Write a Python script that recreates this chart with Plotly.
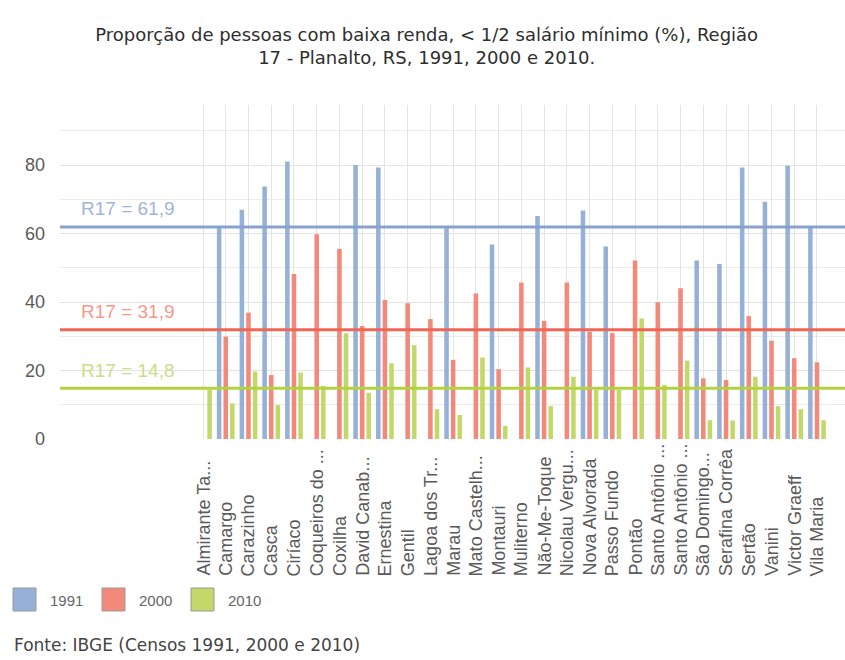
import plotly.graph_objects as go

# Municípios da Região 17 - Planalto (rótulos abreviados como no painel)
categorias = [
    "Almirante Ta...", "Camargo", "Carazinho", "Casca", "Ciríaco",
    "Coqueiros do ...", "Coxilha", "David Canab...", "Ernestina", "Gentil",
    "Lagoa dos Tr...", "Marau", "Mato Castelh...", "Montauri", "Muliterno",
    "Não-Me-Toque", "Nicolau Vergu...", "Nova Alvorada", "Passo Fundo", "Pontão",
    "Santo Antônio ...", "Santo Antônio ...", "São Domingo...", "Serafina Corrêa",
    "Sertão", "Vanini", "Victor Graeff", "Vila Maria",
]

# Proporção (%) de pessoas com renda < 1/2 salário mínimo
v1991 = [None, 61.8, 66.9, 73.7, 81.0, None, None, 80.0, 79.3, None,
         None, 61.8, None, 56.8, None, 65.1, None, 66.7, 56.2, None,
         None, None, 52.1, 51.1, 79.3, 69.3, 79.8, 61.8]
v2000 = [None, 29.9, 36.9, 18.7, 48.2, 59.8, 55.5, 33.0, 40.6, 39.6,
         35.0, 23.1, 42.5, 20.4, 45.7, 34.5, 45.7, 31.3, 30.9, 52.1,
         39.9, 44.0, 17.7, 17.2, 35.9, 28.7, 23.6, 22.4]
v2010 = [14.4, 10.4, 19.7, 9.9, 19.4, 15.5, 30.9, 13.5, 22.1, 27.4,
         8.7, 7.0, 23.8, 3.8, 20.9, 9.6, 18.2, 14.3, 14.3, 35.2,
         15.8, 22.9, 5.5, 5.4, 18.2, 9.6, 8.7, 5.5]

# Média da região em cada censo
anos = ["1991", "2000", "2010"]
media_r17 = [61.9, 31.9, 14.8]

cores_barra = ["#96b1d8", "#f3897a", "#c2d96a"]
cores_linha = ["#87a2cb", "#f06553", "#b3d240"]
cores_rotulo = ["#9fb5d7", "#f39a8d", "#cadd88"]

W, H = 845, 660
ML, MR, MT, MB = 60, 0, 105, 221
PW, PH = W - ML - MR, H - MT - MB

x = list(range(len(categorias)))

fig = go.Figure()
for ano, serie, cor in zip(anos, [v1991, v2000, v2010], cores_barra):
    fig.add_trace(go.Bar(x=x, y=serie, name=ano, marker=dict(color=cor, line=dict(width=0)),
                         showlegend=False))

# Linhas de referência com a média regional
for ano, v, cl, ct in zip(anos, media_r17, cores_linha, cores_rotulo):
    fig.add_shape(type="line", xref="paper", x0=0, x1=1, yref="y", y0=v, y1=v,
                  line=dict(color=cl, width=3), layer="above")
    fig.add_annotation(text=f"R17 = {v:.1f}".replace(".", ","), xref="paper", x=19 / PW,
                       xanchor="left", yref="y", y=v, yshift=18, yanchor="middle",
                       showarrow=False, font=dict(family="Liberation Sans", size=19, color=ct))


def px_x(p):
    return (p - ML) / PW


def px_y(p):
    return (H - MB - p) / PH


# Rótulos das categorias, alinhados pela base
for i, nome in enumerate(categorias):
    fig.add_annotation(text=nome, x=i, xref="x", y=px_y(578), yref="paper",
                       textangle=-90, xanchor="center", yanchor="bottom", showarrow=False,
                       font=dict(family="Liberation Sans", size=18, color="#5a5a5a"))

# Legenda
leg_x = [13, 102, 191]
for ano, cor, lx in zip(anos, cores_barra, leg_x):
    fig.add_shape(type="rect", xref="paper", yref="paper",
                  x0=px_x(lx), x1=px_x(lx + 23), y0=px_y(611), y1=px_y(588),
                  fillcolor=cor, line=dict(color="#9a9a9a", width=1))
    fig.add_annotation(text=ano, xref="paper", yref="paper", x=px_x(lx + 35), y=px_y(600),
                       xanchor="left", yanchor="middle", showarrow=False,
                       font=dict(family="Liberation Sans", size=15, color="#666666"))

fig.add_annotation(text="Fonte: IBGE (Censos 1991, 2000 e 2010)", xref="paper", yref="paper",
                   x=px_x(12), y=px_y(645), xanchor="left", yanchor="middle", showarrow=False,
                   font=dict(family="DejaVu Sans", size=17, color="#444444"))

xl = -(203 - ML) / 22.74
fig.update_layout(
    width=W, height=H,
    margin=dict(l=ML, r=MR, t=MT, b=MB, pad=0),
    paper_bgcolor="white", plot_bgcolor="white",
    barmode="group", bargap=0.13, bargroupgap=0.31,
    title=dict(
        text="Proporção de pessoas com baixa renda, < 1/2 salário mínimo (%), Região<br>"
             "17 - Planalto, RS, 1991, 2000 e 2010.",
        x=0.505, xanchor="center", xref="container", y=1 - 41 / H, yref="container",
        yanchor="middle",
        font=dict(family="DejaVu Sans", size=18, color="#2e2e2e"),
    ),
    xaxis=dict(range=[xl, xl + PW / 22.74], tickvals=x, showticklabels=False,
               showgrid=True, gridcolor="#e4e4e4", gridwidth=1, zeroline=False,
               showline=False, fixedrange=True),
    yaxis=dict(range=[0, PH / 3.425], tick0=0, dtick=20, showgrid=True, gridcolor="#e3e3e3",
               minor=dict(dtick=10, showgrid=True, gridcolor="#ececec"),
               zeroline=False, showline=False, ticks="", ticklabelstandoff=14,
               tickfont=dict(family="Liberation Sans", size=18, color="#5a5a5a")),
)

fig.write_html("out.html")
